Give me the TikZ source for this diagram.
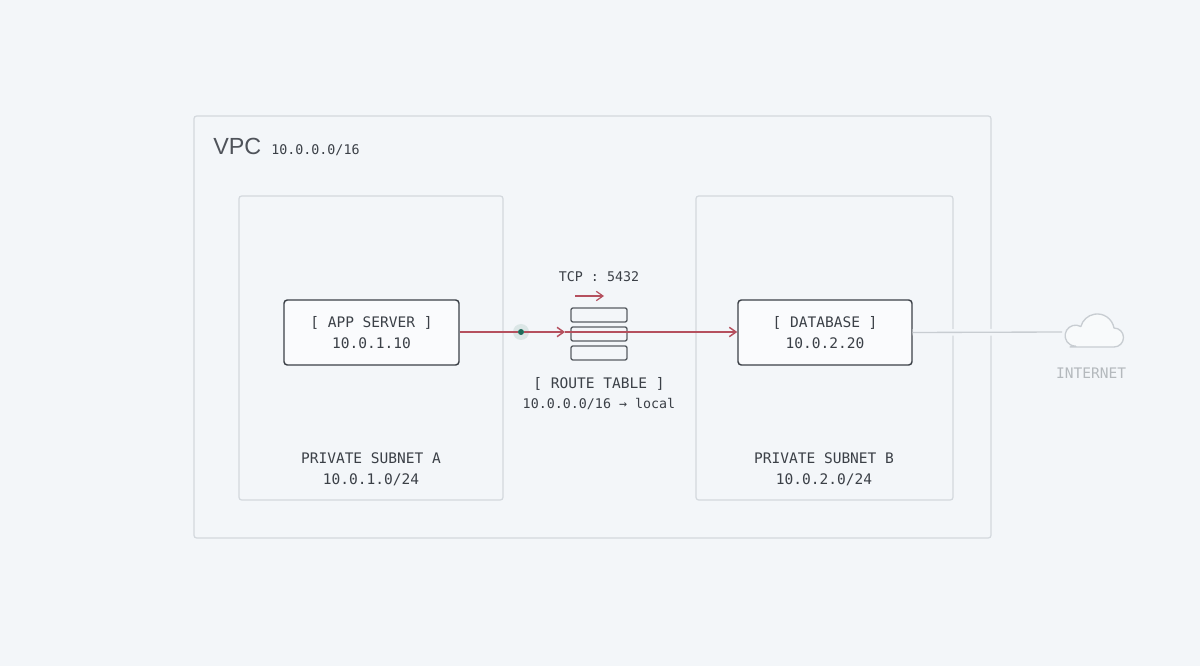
\documentclass[tikz,border=0pt]{standalone}
\usepackage{fontspec}
\setmainfont{Liberation Sans}
\setmonofont{DejaVu Sans Mono}
\usetikzlibrary{arrows.meta}
\definecolor{bgc}{HTML}{F3F6F9}
\definecolor{framec}{HTML}{D3D8DD}
\definecolor{boxc}{HTML}{3B4047}
\definecolor{textc}{HTML}{3B4047}
\definecolor{flowc}{HTML}{B5505E}
\definecolor{dotc}{HTML}{1F6B5A}
\definecolor{netc}{HTML}{C8CDD2}
\begin{document}
\begin{tikzpicture}[x=0.75pt,y=-0.75pt,
  frame/.style={draw=framec, line width=0.9pt, rounded corners=2pt},
  host/.style={draw=boxc, line width=1.1pt, fill=white!60!bgc, rounded corners=2.5pt},
  slot/.style={draw=boxc!85, line width=1pt, fill=bgc, rounded corners=1.5pt},
  lbl/.style={font=\ttfamily\fontsize{10.9}{13}\selectfont, text=textc, align=center, inner sep=0pt},
  small/.style={font=\ttfamily\fontsize{10}{12}\selectfont, text=textc, inner sep=0pt},
  flow/.style={draw=flowc, line width=1.1pt},
  tip/.style={-{Straight Barb[length=5pt,width=7pt]}}]
  \fill[bgc] (0,0) rectangle (1200,666);
  \useasboundingbox (0,0) rectangle (1200,666);
  % VPC and subnets
  \draw[frame] (194,116) rectangle (991,538);
  \node[anchor=base west, font=\fontsize{17.5}{20}\selectfont, text=textc!90, inner sep=0pt] (vpc) at (213,155) {VPC};
  \node[small, anchor=base west] (vpccidr) at (271,155) {10.0.0.0/16};
  \draw[frame] (239,196) rectangle (503,500);
  \draw[frame] (696,196) rectangle (953,500);
  \node[lbl] (subA) at (371,469) {PRIVATE SUBNET A\\[3pt]10.0.1.0/24};
  \node[lbl] (subB) at (824,469) {PRIVATE SUBNET B\\[3pt]10.0.2.0/24};
  % hosts
  \node[host, minimum width=131.25pt, minimum height=48.75pt] (app) at (371.5,332.5) {};
  \node[lbl] (applbl) at (app) {[ APP SERVER ]\\[3pt]10.0.1.10};
  \node[host, minimum width=130.5pt, minimum height=48.75pt] (db) at (825,332.5) {};
  \node[lbl] (dblbl) at (db) {[ DATABASE ]\\[3pt]10.0.2.20};
  % internet
  \draw[netc, fill=bgc!60!white, line width=1pt, line join=round]
    (1070,347) -- (1114,347) arc[start angle=90, end angle=-90, radius=9.5]
    arc[start angle=-10, end angle=-165, radius=17]
    arc[start angle=-60, end angle=-270, radius=10.5] -- cycle;
  \coordinate (netw) at (1062,332);
  \node[lbl, text=netc!90!black] (netlbl) at (1091,373) {INTERNET};
  \draw[bgc, line width=5pt] (db.east) -- (netw);
  \draw[netc, line width=1pt] (db.east) -- (netw);
  % route table
  \node[slot, minimum width=42pt, minimum height=10.5pt, inner sep=0pt] (rt1) at (599,315) {};
  \node[slot, minimum width=42pt, minimum height=10.5pt, inner sep=0pt] (rt2) at (599,334) {};
  \node[slot, minimum width=42pt, minimum height=10.5pt, inner sep=0pt] (rt3) at (599,353) {};
  \node[lbl] (rtlbl) at (599,394) {[ ROUTE TABLE ]\\[2pt]{\fontsize{10}{12}\selectfont 10.0.0.0/16 → local}};
  % traffic
  \node[small] (tcp) at (599,277) {TCP : 5432};
  \coordinate (t0) at (575,296);
  \coordinate (t1) at (604,296);
  \draw[flow, line width=0.9pt, tip] (t0) -- (t1);
  \fill[dotc!40, opacity=0.3] (521,332) circle (8);
  \node[circle, fill=dotc, inner sep=0pt, minimum size=4.5pt] (hop) at (521,332) {};
  \coordinate (mid) at (565,332);
  \draw[flow] (app.east |- 0,332) -- (hop);
  \draw[flow, tip] (hop) -- (mid);
  \draw[flow, tip] (mid) -- (db.west |- 0,332);
\end{tikzpicture}
\end{document}
